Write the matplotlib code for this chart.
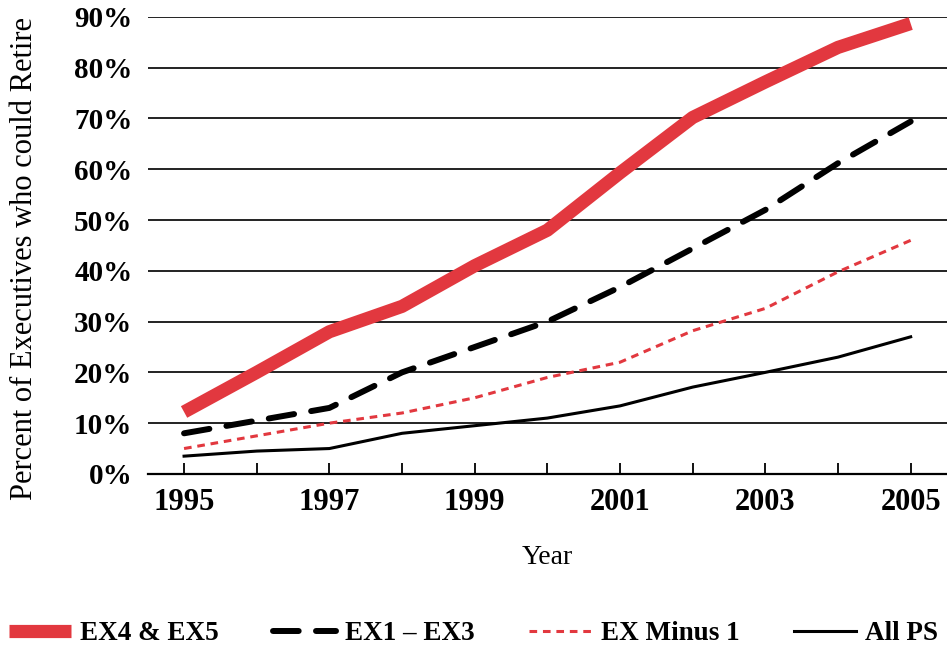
import matplotlib.pyplot as plt
from matplotlib.ticker import FuncFormatter

# data
years = [1995, 1996, 1997, 1998, 1999, 2000, 2001, 2002, 2003, 2004, 2005]
ex4_ex5 = [12.2, 20, 28, 33, 41, 48, 59.3, 70.2, 77.2, 84, 88.7]
ex1_ex3 = [8, 10.5, 13, 20, 25, 30, 36.8, 44.4, 52, 61.2, 69.4]
ex_minus1 = [5, 7.5, 10, 12, 15, 19, 22, 28.2, 32.6, 39.8, 46]
all_ps = [3.5, 4.5, 5, 8, 9.5, 11, 13.4, 17.1, 20, 23, 27]
year_labels = ['1995', '', '1997', '', '1999', '', '2001', '', '2003', '', '2005']
y_ticks = [0, 10, 20, 30, 40, 50, 60, 70, 80, 90]

plt.rcParams['font.family'] = ['Liberation Serif', 'DejaVu Serif']
red = '#E2383F'

fig = plt.figure(figsize=(9.47, 6.51), dpi=100)
ax = fig.add_axes([0.156, 0.272, 0.844, 0.702])

ax.plot(years, ex4_ex5, color=red, lw=9.5, solid_capstyle='butt', label='EX4 & EX5', zorder=5)
ax.plot(years, ex1_ex3, color='black', lw=4.3, dashes=(4.3, 2.9), dash_capstyle='round',
        label='EX1 – EX3', zorder=4)
ax.plot(years, ex_minus1, color=red, lw=2.2, dashes=(2.5, 1.9), label='EX Minus 1', zorder=3)
ax.plot(years, all_ps, color='black', lw=2.2, label='All PS', zorder=3)

ax.set_xlim(1994.5, 2005.5)
ax.set_ylim(0, 90)
ax.set_yticks(y_ticks)
ax.yaxis.set_major_formatter(FuncFormatter(lambda v, p: f'{v:.0f}%'))
ax.set_xticks(years)
ax.set_xticklabels(year_labels)

ax.grid(axis='y', color='#222222', lw=1.4)
ax.set_axisbelow(True)
for s in ['top', 'right', 'left']:
    ax.spines[s].set_visible(False)
ax.spines['bottom'].set_linewidth(1.6)

ax.tick_params(axis='x', direction='in', length=8, width=1.3, pad=10, labelsize=22)
ax.tick_params(axis='y', length=0, pad=11, labelsize=21)
for t in ax.get_xticklabels() + ax.get_yticklabels():
    t.set_fontweight('bold')

ax.set_xlabel('Year', fontsize=20, labelpad=20)
fig.text(25 / 947, 1 - 258 / 651, 'Percent of Executives who could Retire', fontsize=22,
         rotation=90, ha='center', va='center')

fig.legend(loc='lower center', bbox_to_anchor=(0.5, -0.03), ncol=4, frameon=False,
           prop={'size': 19.5, 'weight': 'bold'}, handlelength=2.3, columnspacing=2.0,
           handletextpad=0.35)

fig.savefig('out.png', dpi=100)
